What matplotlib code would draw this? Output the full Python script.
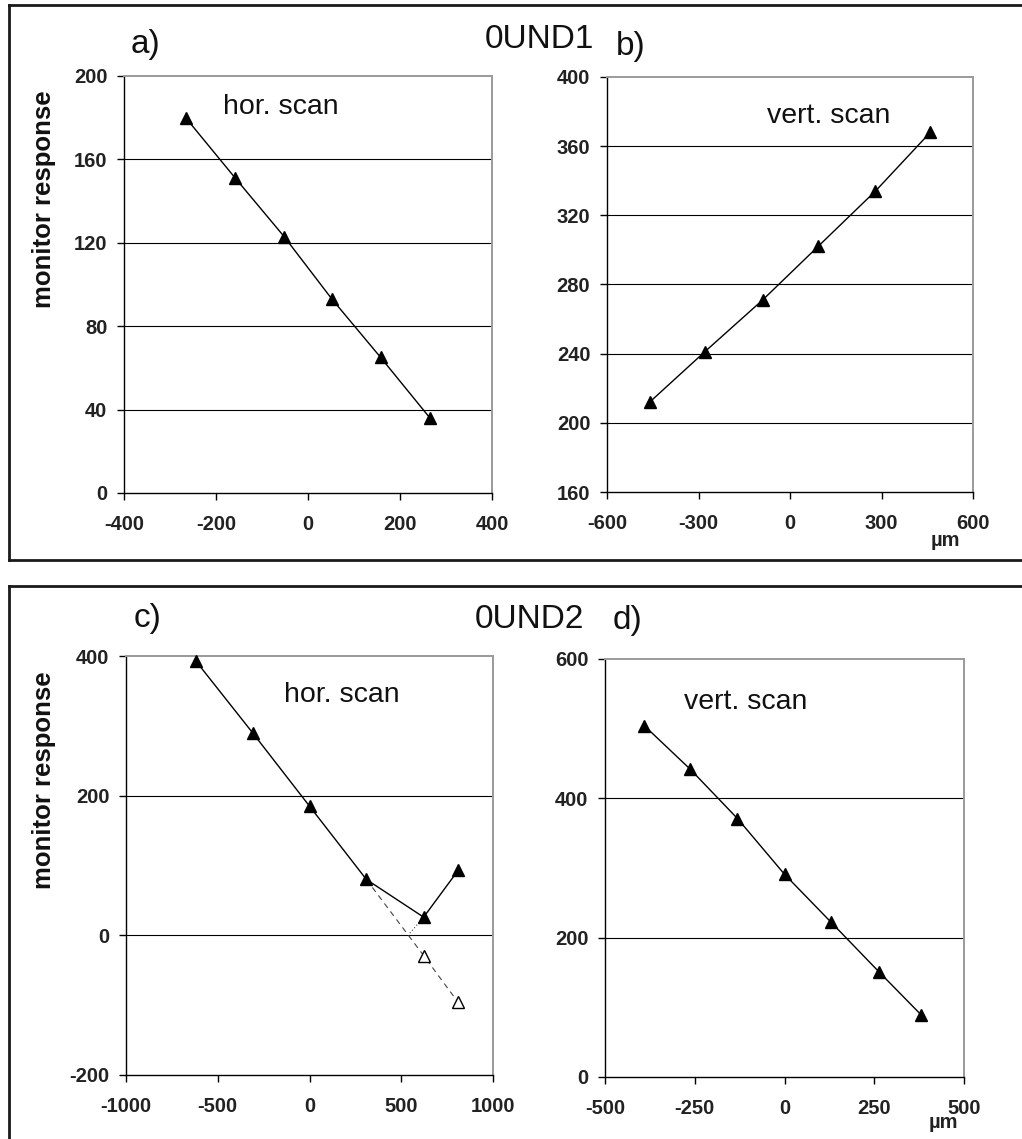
import matplotlib as mpl
mpl.use('Agg')

import matplotlib.pyplot as plt
from matplotlib.lines import Line2D

# panel a) 0UND1 horizontal scan
a_x = [-266, -158, -52, 52, 158, 265]
a_y = [180, 151, 123, 93, 65, 36]
# panel b) 0UND1 vertical scan
b_x = [-460, -280, -90, 92, 280, 460]
b_y = [212, 241, 271, 302, 334, 368]
# panel c) 0UND2 horizontal scan (measured)
c_x = [-620, -310, 0, 310, 622, 810]
c_y = [393, 290, 185, 80, 26, 93]
# panel c) linear extrapolation (open triangles)
c_ext_x = [310, 622, 810]
c_ext_y = [80, -29, -96]
c_link_x = [622, 543]
c_link_y = [26, 2]
# panel d) 0UND2 vertical scan
d_x = [-390, -263, -131, 0, 130, 263, 381]
d_y = [504, 442, 371, 291, 222, 151, 89]

a_xticks = [-400, -200, 0, 200, 400]
a_yticks = [0, 40, 80, 120, 160, 200]
b_xticks = [-600, -300, 0, 300, 600]
b_yticks = [160, 200, 240, 280, 320, 360, 400]
c_xticks = [-1000, -500, 0, 500, 1000]
c_yticks = [-200, 0, 200, 400]
d_xticks = [-500, -250, 0, 250, 500]
d_yticks = [0, 200, 400, 600]

W, H = 1022, 1139
plt.rcParams['font.family'] = ['Liberation Sans', 'DejaVu Sans']
plt.rcParams['axes.unicode_minus'] = False

fig = plt.figure(figsize=(W / 100.0, H / 100.0), dpi=100)


def px_axes(x0, y0, x1, y1):
    # pixel box (top-left origin) -> figure axes
    return fig.add_axes([x0 / W, 1 - y1 / H, (x1 - x0) / W, (y1 - y0) / H])


def style_axes(ax, xticks, yticks):
    ax.set_xlim(xticks[0], xticks[-1])
    ax.set_ylim(yticks[0], yticks[-1])
    ax.set_xticks(xticks)
    ax.set_yticks(yticks)
    for y in yticks[1:-1]:
        ax.axhline(y, color='black', lw=0.8, zorder=1)
    for side in ['top', 'right']:
        ax.spines[side].set_color('#9a9a9a')
        ax.spines[side].set_linewidth(1.4)
    for side in ['left', 'bottom']:
        ax.spines[side].set_color('black')
        ax.spines[side].set_linewidth(1.0)
    ax.tick_params(axis='both', direction='out', length=5, width=1.0,
                   labelsize=14.5)
    ax.tick_params(axis='x', pad=11)
    ax.tick_params(axis='y', pad=7)
    for lab in ax.get_xticklabels() + ax.get_yticklabels():
        lab.set_fontweight('bold')
        lab.set_color('#222222')


def scan_line(ax, x, y):
    ax.plot(x, y, color='black', lw=1.0, marker='^', markersize=9,
            markerfacecolor='black', markeredgecolor='black', zorder=3,
            clip_on=False)


ax_a = px_axes(124, 76, 492, 493)
style_axes(ax_a, a_xticks, a_yticks)
scan_line(ax_a, a_x, a_y)

ax_b = px_axes(607, 77, 973, 492)
style_axes(ax_b, b_xticks, b_yticks)
scan_line(ax_b, b_x, b_y)

ax_c = px_axes(126, 656, 493, 1075)
style_axes(ax_c, c_xticks, c_yticks)
ax_c.plot(c_ext_x, c_ext_y, color='#444444', lw=0.8, ls=(0, (5, 4)),
          marker='^', markersize=8, markevery=[1, 2],
          markerfacecolor='white', markeredgecolor='black', zorder=2)
ax_c.plot(c_link_x, c_link_y, color='#444444', lw=0.8, ls=(0, (1, 2)),
          zorder=2)
scan_line(ax_c, c_x, c_y)

ax_d = px_axes(605, 659, 964, 1077)
style_axes(ax_d, d_xticks, d_yticks)
scan_line(ax_d, d_x, d_y)


def ftext(x, y, s, **kw):
    fig.text(x / W, 1 - y / H, s, ha='center', va='center', **kw)


big = dict(fontsize=24, color='#111111')
scan = dict(fontsize=20.5, color='#111111')
ftext(146, 45, 'a)', **big)
ftext(539, 40, '0UND1', **big)
ftext(631, 46, 'b)', **big)
ftext(281, 107, 'hor. scan', **scan)
ftext(829, 116, 'vert. scan', **scan)

ftext(148, 618, 'c)', **big)
ftext(529, 619, '0UND2', **big)
ftext(628, 621, 'd)', **big)
ftext(342, 695, 'hor. scan', **scan)
ftext(746, 702, 'vert. scan', **scan)

ylab = dict(fontsize=18.5, fontweight='bold', rotation=90, color='#111111')
ftext(44, 199, 'monitor response', **ylab)
ftext(44, 780, 'monitor response', **ylab)

um = dict(fontsize=14.5, fontweight='bold', color='#222222')
ftext(945, 541, 'µm', **um)
ftext(943, 1123, 'µm', **um)

# frames round the two figure halves
frame = dict(color='#1a1a1a', lw=2.0)
for xs, ys in [([9, W], [5, 5]), ([9, 9], [5, 560]), ([9, W], [560, 560]),
               ([9, W], [586, 586]), ([9, 9], [586, H])]:
    fig.add_artist(Line2D([v / W for v in xs], [1 - v / H for v in ys],
                          transform=fig.transFigure, **frame))

plt.savefig('out.png', dpi=100)
